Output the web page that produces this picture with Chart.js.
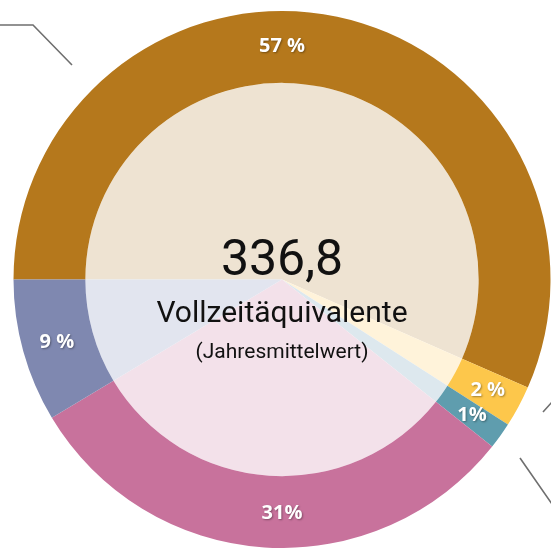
<!DOCTYPE html>
<html><head><meta charset="utf-8">
<script src="https://cdn.jsdelivr.net/npm/chart.js@4/dist/chart.umd.min.js"></script>
<style>
html,body{margin:0;padding:0;background:#fff;overflow:hidden;}
#wrap{position:relative;width:551px;height:548px;}
</style></head>
<body><div id="wrap"><canvas id="c" width="551" height="548"></canvas></div>
<script>
const categories = ["Kategorie A", "Kategorie B", "Kategorie C", "Kategorie D", "Kategorie E"];
const values = [190.6, 8.4, 5.4, 103.4, 29.0];
const percentLabels = ["57 %", "2 %", "1%", "31%", "9 %"];
const outerColors = ["#B5781C", "#FDC74B", "#5F9DAE", "#C8729C", "#7F88B0"];
const innerColors = ["#EEE3D2", "#FFF3DA", "#DDE8EE", "#F3E1EA", "#E2E5EF"];
const totalText = "336,8";
const centerLine1 = "Vollzeitäquivalente";
const centerLine2 = "(Jahresmittelwert)";

// label placement (style): fixed angle in degrees clockwise from top, or null = segment middle
const labelAngleOverride = [0, null, null, 180, null];

const overlay = {
  id: 'overlay',
  afterDatasetsDraw(chart) {
    const ctx = chart.ctx;
    const meta = chart.getDatasetMeta(0);
    ctx.save();
    ctx.font = 'bold 20px "Open Sans", sans-serif';
    ctx.textAlign = 'center';
    ctx.textBaseline = 'middle';
    ctx.fillStyle = '#fff';
    ctx.shadowColor = 'rgba(0,0,0,0.35)';
    ctx.shadowBlur = 2;
    ctx.shadowOffsetX = 1;
    ctx.shadowOffsetY = 1;
    meta.data.forEach((arc, i) => {
      const p = arc.getProps(['x','y','startAngle','endAngle','innerRadius','outerRadius']);
      let a = (p.startAngle + p.endAngle) / 2;
      if (labelAngleOverride[i] !== null) a = (labelAngleOverride[i] - 90) * Math.PI / 180;
      const r = (p.innerRadius + p.outerRadius) / 2 + 1;
      ctx.fillText(percentLabels[i], p.x + Math.cos(a) * r, p.y + Math.sin(a) * r);
    });
    ctx.restore();
    const arc0 = meta.data[0];
    const cx = arc0.x, cy = arc0.y;
    ctx.save();
    ctx.fillStyle = '#111';
    ctx.textAlign = 'center';
    ctx.textBaseline = 'alphabetic';
    ctx.font = '50px Roboto, sans-serif';
    ctx.fillText(totalText, cx, cy - 5);
    ctx.font = '30px Roboto, sans-serif';
    ctx.fillText(centerLine1, cx, cy + 42);
    ctx.font = '21px Roboto, sans-serif';
    ctx.fillText(centerLine2, cx, cy + 78);
    ctx.restore();
    ctx.save();
    ctx.strokeStyle = '#6f6f6f';
    ctx.lineWidth = 1.6;
    ctx.beginPath();
    ctx.moveTo(0, 25); ctx.lineTo(33, 25); ctx.lineTo(72, 65);
    ctx.moveTo(543, 412); ctx.lineTo(552, 402);
    ctx.moveTo(520, 458); ctx.lineTo(552, 504);
    ctx.stroke();
    ctx.restore();
  }
};

new Chart(document.getElementById('c'), {
  type: 'doughnut',
  data: {
    labels: categories,
    datasets: [
      { data: values, backgroundColor: outerColors, weight: 72, borderWidth: 0, hoverOffset: 0 },
      { data: values, backgroundColor: innerColors, weight: 197, borderWidth: 0, hoverOffset: 0 }
    ]
  },
  options: {
    responsive: false,
    animation: false,
    cutout: 0,
    rotation: -90,
    layout: { padding: { left: 13, top: 11, right: 0, bottom: 0 } },
    plugins: { legend: { display: false }, tooltip: { enabled: false } },
    events: []
  },
  plugins: [overlay]
});
</script></body></html>
